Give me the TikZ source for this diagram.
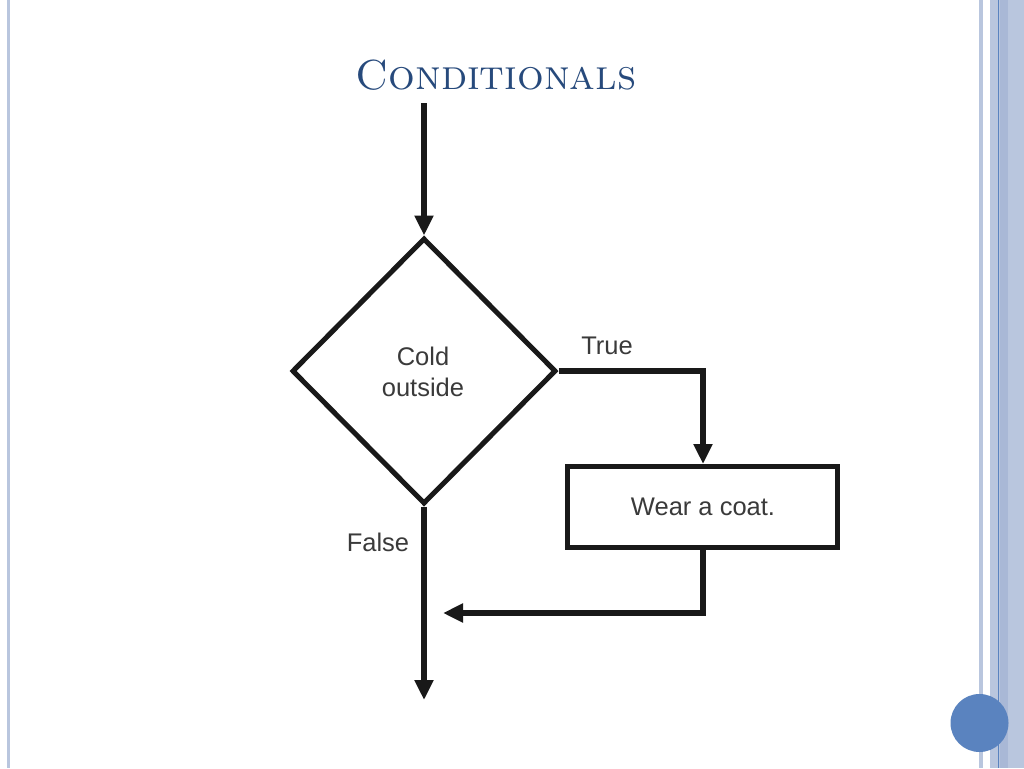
\documentclass[tikz,border=0pt]{standalone}
\usepackage{fontspec}
\newfontfamily\diafont{Liberation Sans}
\usetikzlibrary{shapes.geometric,arrows.meta}
\definecolor{stripe}{HTML}{B9C6DE}
\definecolor{stripeb}{HTML}{A9B8D6}
\definecolor{bluel}{HTML}{5A83BF}
\definecolor{titlec}{HTML}{274A7C}
\definecolor{txt}{HTML}{3A3A3A}
\tikzset{
  flow/.style={line width=6pt,draw=black!90},
  tip/.style={-{Triangle[length=20pt,width=18pt]}},
  lbl/.style={font=\diafont\fontsize{25.5}{31}\selectfont,text=txt,align=center},
}
\begin{document}
\begin{tikzpicture}[x=1pt,y=-1pt]
\useasboundingbox (0,0) rectangle (1024,768);
\fill[white] (0,0) rectangle (1024,768);
% borders
\fill[stripe] (7,0) rectangle (10,768);
\fill[stripe] (979,0) rectangle (983,768);
\fill[stripe] (990,0) rectangle (1000,768);
\fill[stripeb] (1000,0) rectangle (1008,768);
\fill[stripe] (1008,0) rectangle (1024,768);
\draw[bluel,line width=1pt] (998.5,0) -- (998.5,768);
\fill[bluel] (979.5,723) circle (29);
% title
\node[text=titlec,font=\fontsize{42}{46}\selectfont\scshape] (title) at (496,75) {Conditionals};
% diagram
\coordinate (start) at (424,103);
\node[draw=black!90,line width=5pt,diamond,minimum width=264pt,minimum height=266pt,inner sep=0pt] (d) at (424,371) {};
\node[lbl] (cond) at (423,372) {Cold\\outside};
\node[draw=black!90,line width=5pt,minimum width=270pt,minimum height=81pt,inner sep=0pt] (box) at (702,507) {};
\node[lbl] (wear) at (703,507) {Wear a coat.};
\node[lbl] (true) at (607,346) {True};
\node[lbl] (false) at (378,542) {False};
\coordinate (c1) at (703,371);
\coordinate (c2) at (703,613);
\coordinate (m) at (443,613);
\coordinate (endp) at (424,700);
\draw[flow,tip] (start) -- (d.north);
\draw[flow,tip] (d.east) -- (c1) -- (box.north -| c1);
\draw[flow,tip] (box.south -| c2) -- (c2) -- (m);
\draw[flow,tip] (d.south) -- (endp);
\end{tikzpicture}
\end{document}
